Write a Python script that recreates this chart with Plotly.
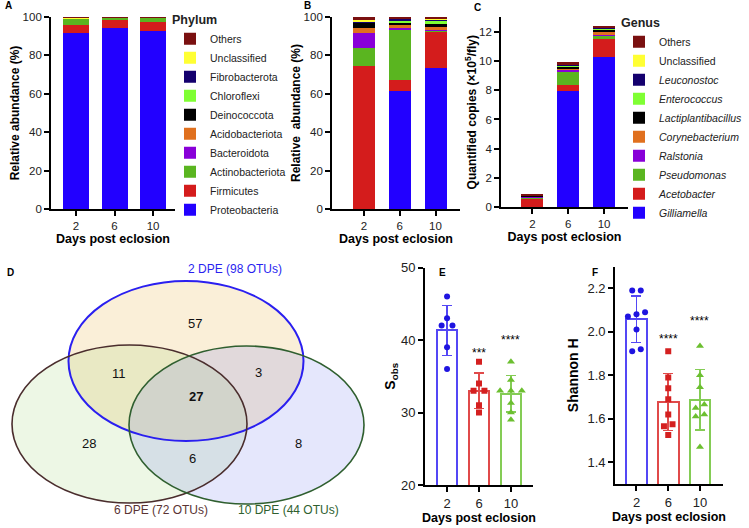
import numpy as np
import plotly.graph_objects as go

W, H = 749, 528

# ---- data ----
days = ['2', '6', '10']

phyla = ['Proteobacteria', 'Firmicutes', 'Actinobacteriota', 'Bacteroidota', 'Acidobacteriota',
         'Deinococcota', 'Chloroflexi', 'Fibrobacterota', 'Unclassified', 'Others']
genera = ['<i>Gilliamella</i>', '<i>Acetobacter</i>', '<i>Pseudomonas</i>', '<i>Ralstonia</i>',
          '<i>Corynebacterium</i>', '<i>Lactiplantibacillus</i>', '<i>Enterococcus</i>',
          '<i>Leuconostoc</i>', 'Unclassified', 'Others']
taxa_colors = ['#2200ff', '#d41c1c', '#5ab520', '#8800d8', '#e0701e',
               '#000000', '#7fff33', '#14006e', '#ffff33', '#7a1010']

# panel A: relative abundance (%), phylum, per day 2/6/10
phylum_a = [
    [91.5, 94.5, 92.5],
    [4.5, 3.8, 4.8],
    [3.0, 1.4, 2.3],
    [0.1, 0.05, 0.05],
    [0.05, 0.05, 0.05],
    [0.05, 0.0, 0.0],
    [0.05, 0.05, 0.05],
    [0.0, 0.0, 0.0],
    [0.5, 0.0, 0.1],
    [0.25, 0.15, 0.15],
]
# panel B: relative abundance (%), phylum
phylum_b = [
    [0.2, 61.5, 73.4],
    [74.1, 5.7, 19.3],
    [9.6, 26.4, 0.3],
    [7.8, 0.9, 0.2],
    [2.4, 1.7, 2.0],
    [3.1, 0.8, 1.0],
    [0.0, 1.2, 2.0],
    [0.6, 0.8, 0.3],
    [0.5, 0.3, 0.3],
    [1.7, 0.7, 1.2],
]
# panel C: quantified copies (x10^5 / fly), genus
genus_c = [
    [0.02, 7.95, 10.3],
    [0.55, 0.42, 1.2],
    [0.08, 0.91, 0.23],
    [0.04, 0.14, 0.03],
    [0.03, 0.08, 0.27],
    [0.02, 0.10, 0.08],
    [0.02, 0.07, 0.10],
    [0.01, 0.05, 0.04],
    [0.01, 0.05, 0.05],
    [0.04, 0.20, 0.12],
]

# panel D: venn counts
venn_labels = ['2 DPE (98 OTUs)', '6 DPE (72 OTUs)', '10 DPE (44 OTUs)']
venn_counts = {'2': 57, '6': 28, '10': 8, '2&6': 11, '2&10': 3, '6&10': 6, 'all': 27}

# panel E: observed OTUs
sobs = [
    [46, 43, 42, 42, 39, 36],
    [37, 34, 33, 33, 31, 30],
    [37, 34.5, 33, 33, 33, 31.3, 30, 29],
]
sobs_stars = ['', '***', '****']
sobs_star_y = [None, 38.6, 40.4]
# panel F: Shannon index
shannon = [
    [2.19, 2.19, 2.08, 2.07, 2.09, 2.01, 1.92, 1.91],
    [1.91, 1.79, 1.74, 1.69, 1.62, 1.575, 1.565, 1.525],
    [1.935, 1.80, 1.745, 1.665, 1.65, 1.62, 1.61, 1.47],
]
shannon_stars = ['', '****', '****']
shannon_star_y = [None, 1.98, 2.065]

grp_line = ['#5447f5', '#e04a4a', '#84cc55']
grp_dot = ['#1f14e0', '#d42020', '#6cbf30']
grp_symbol = ['circle', 'square', 'triangle-up']

FONT = 'Arial'


def fx(p):
    return p / W


def fy(p):
    return 1 - p / H


def swarm(vals, tol, step):
    # spread points that share (nearly) the same value
    order = np.argsort(vals)
    offs = np.zeros(len(vals))
    clusters, cur = [], [order[0]]
    for a, b in zip(order[:-1], order[1:]):
        if abs(vals[b] - vals[a]) <= tol:
            cur.append(b)
        else:
            clusters.append(cur)
            cur = [b]
    clusters.append(cur)
    for cl in clusters:
        n = len(cl)
        for j, idx in enumerate(cl):
            offs[idx] = (j - (n - 1) / 2) * step
    return offs


fig = go.Figure()
xs = [0, 1, 2]

# A and B: phylum stacks
for name, col, va, vb in zip(phyla, taxa_colors, phylum_a, phylum_b):
    fig.add_trace(go.Bar(x=xs, y=va, name=name, marker_color=col, marker_line_width=0,
                         width=0.675, xaxis='x', yaxis='y', legend='legend'))
    fig.add_trace(go.Bar(x=xs, y=vb, name=name, marker_color=col, marker_line_width=0,
                         width=0.615, xaxis='x2', yaxis='y2', showlegend=False))

# C: genus stacks
for name, col, vc in zip(genera, taxa_colors, genus_c):
    fig.add_trace(go.Bar(x=xs, y=vc, name=name, marker_color=col, marker_line_width=0,
                         width=0.615, xaxis='x3', yaxis='y3', legend='legend2'))


def dot_panel(groups, xa, ya, bw, tol, step, size):
    for i, vals in enumerate(groups):
        v = np.array(vals, dtype=float)
        m, sd = v.mean(), v.std(ddof=1)
        fig.add_trace(go.Bar(x=[i], y=[m], width=bw, marker_color='rgba(255,255,255,0)',
                             marker_line=dict(color=grp_line[i], width=2),
                             error_y=dict(type='data', array=[sd], color=grp_line[i],
                                          thickness=1.6, width=5),
                             xaxis=xa, yaxis=ya, showlegend=False))
        fig.add_trace(go.Scatter(x=i + swarm(v, tol, step), y=v, mode='markers',
                                 marker=dict(symbol=grp_symbol[i], color=grp_dot[i],
                                             size=size[i], line_width=0),
                                 xaxis=xa, yaxis=ya, showlegend=False))


dot_panel(sobs, 'x4', 'y4', 0.625, 0.5, 0.34, [6, 6, 7])
dot_panel(shannon, 'x5', 'y5', 0.66, 0.02, 0.27, [6, 6, 7])

axis_common = dict(showline=True, linecolor='black', linewidth=1.8, ticks='outside',
                   ticklen=5, tickwidth=1.5, tickcolor='black', showgrid=False,
                   zeroline=False, automargin=False,
                   tickfont=dict(family=FONT, size=11.5, color='#222'))

xtitle = dict(text='<b>Days post eclosion</b>', font=dict(family=FONT, size=12.5, color='black'),
              standoff=3)


def xax(d0, d1, r, anchor):
    return dict(axis_common, domain=[fx(d0), fx(d1)], range=r, anchor=anchor,
                tickvals=xs, ticktext=days, title=xtitle)


def yax(d0, d1, r, dtick, anchor, title, size=12, standoff=0):
    return dict(axis_common, domain=[fy(d1), fy(d0)], range=r, dtick=dtick, anchor=anchor,
                title=dict(text=title, font=dict(family=FONT, size=size, color='black'),
                           standoff=standoff))


big_ticks = dict(family=FONT, size=13, color='#222')

fig.update_layout(
    width=W, height=H, template='none', barmode='stack',
    margin=dict(l=0, r=0, t=0, b=0),
    paper_bgcolor='white', plot_bgcolor='white',
    font=dict(family=FONT, size=11, color='black'),
    xaxis=xax(51, 175, [-0.649, 2.57], 'y'),
    yaxis=yax(17, 209, [0, 100], 20, 'x', '<b>Relative abundance (%)</b>'),
    xaxis2=xax(332, 460, [-0.895, 2.685], 'y2'),
    yaxis2=yax(17, 209, [0, 100], 20, 'x2', '<b>Relative  abundance (%)</b>'),
    xaxis3=xax(501, 628, [-0.88, 2.67], 'y3'),
    yaxis3=yax(17.4, 207, [0, 13], 2, 'x3', '<b>Quantified copies (×10<sup>5</sup>/fly)</b>'),
    xaxis4=dict(xax(425, 533, [-0.69, 2.69], 'y4'), tickfont=big_ticks),
    yaxis4=dict(yax(267.5, 485, [20, 50], 10, 'x4', '<b>S<sub>obs</sub></b>', 14, 2),
                tickfont=big_ticks),
    xaxis5=dict(xax(615, 723, [-0.677, 2.725], 'y5'), tickfont=big_ticks),
    yaxis5=dict(yax(266.5, 484, [1.3, 2.3], 0.2, 'x5', '<b>Shannon H</b>', 14, 6),
                tickfont=big_ticks, tickformat='.1f', tick0=1.4),
    legend=dict(x=fx(170), y=fy(8), xanchor='left', yanchor='top', traceorder='reversed',
                bgcolor='rgba(0,0,0,0)', font=dict(family=FONT, size=10.5, color='#222'),
                title=dict(text='<b>Phylum</b>', font=dict(family=FONT, size=12.5))),
    legend2=dict(x=fx(619), y=fy(11), xanchor='left', yanchor='top', traceorder='reversed',
                 bgcolor='rgba(0,0,0,0)', font=dict(family=FONT, size=10.5, color='#222'),
                 title=dict(text='<b>Genus</b>', font=dict(family=FONT, size=12.5))),
)

# stars over E/F
for i, s in enumerate(sobs_stars):
    if s:
        fig.add_annotation(x=i, y=sobs_star_y[i], text=s, showarrow=False, xref='x4', yref='y4',
                           yshift=-3, font=dict(family=FONT, size=12))
for i, s in enumerate(shannon_stars):
    if s:
        fig.add_annotation(x=i, y=shannon_star_y[i], text=s, showarrow=False, xref='x5',
                           yref='y5', yshift=-3, font=dict(family=FONT, size=12))

# panel letters
for lab, (lx, ly) in zip('ABCDEF', [(3, 6), (302, 6), (472, 7), (5, 272), (437, 272), (590, 272)]):
    fig.add_annotation(x=fx(lx), y=fy(ly), xref='paper', yref='paper', text='<b>%s</b>' % lab,
                       showarrow=False, xanchor='left', yanchor='middle',
                       font=dict(family=FONT, size=10))

# ---- venn (D) ----
ellipses = [  # cx, cy, rx, ry, fill, line
    (186, 361, 117.5, 80, 'rgba(235,190,100,0.25)', '#2a1ff0', 2.0),
    (129.5, 424, 117.5, 79, 'rgba(150,210,100,0.17)', '#4a2d2d', 1.6),
    (246.5, 425, 117.5, 79, 'rgba(100,110,240,0.17)', '#2f5f2f', 1.6),
]
for cx, cy, rx, ry, fill, line, lw in ellipses:
    fig.add_shape(type='circle', xref='paper', yref='paper', x0=fx(cx - rx), x1=fx(cx + rx),
                  y0=fy(cy + ry), y1=fy(cy - ry), fillcolor=fill, line_width=0, layer='below')
for cx, cy, rx, ry, fill, line, lw in ellipses:
    fig.add_shape(type='circle', xref='paper', yref='paper', x0=fx(cx - rx), x1=fx(cx + rx),
                  y0=fy(cy + ry), y1=fy(cy - ry), line=dict(color=line, width=lw))

count_pos = {'2': (186, 323), '6': (80, 453), '10': (298, 453), '2&6': (110, 383),
             '2&10': (258, 382), '6&10': (187, 468), 'all': (187, 406)}
for k, (cx, cy) in count_pos.items():
    t = str(venn_counts[k])
    if k == 'all':
        t = '<b>%s</b>' % t
    fig.add_annotation(x=fx(cx), y=fy(cy), xref='paper', yref='paper', text=t, showarrow=False,
                       font=dict(family=FONT, size=13, color='#111'))
for t, (cx, cy), col in zip(venn_labels, [(186, 269), (112, 519), (288, 519)],
                            ['#2a1ff0', '#5a3333', '#2f5f2f']):
    fig.add_annotation(x=fx(cx), y=fy(cy), xref='paper', yref='paper', text=t, showarrow=False,
                       font=dict(family=FONT, size=12, color=col))

fig.write_html("out.html", config={'displayModeBar': False},
               post_script="document.body.style.margin='0px';")
